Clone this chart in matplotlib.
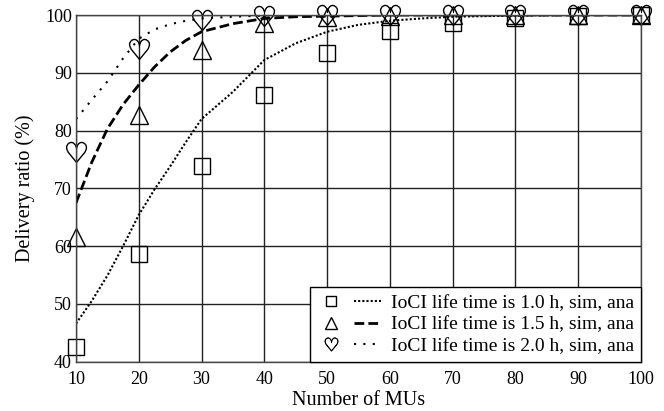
import numpy as np
import matplotlib
matplotlib.use("Agg")
import matplotlib.pyplot as plt
from matplotlib.legend_handler import HandlerTuple

plt.rcParams['font.family'] = ['Liberation Serif', 'DejaVu Serif']
plt.rcParams['mathtext.fontset'] = 'dejavusans'

# simulation points
mus = [10, 20, 30, 40, 50, 60, 70, 80, 90, 100]
sim_10 = [42.5, 58.6, 73.9, 86.1, 93.5, 97.3, 98.6, 99.4, 99.8, 100.0]
sim_15 = [61.5, 82.7, 93.9, 98.6, 99.6, 99.9, 100.0, 100.0, 100.0, 100.0]
sim_20 = [76.3, 94.2, 99.1, 99.9, 100.0, 100.0, 100.0, 100.0, 100.0, 100.0]

# analytical curves
ana_x = [10, 12.5, 15, 17.5, 20, 22.5, 25, 27.5, 30, 35, 40, 45, 50, 55, 60, 65, 70, 80, 90, 100]
ana_10 = [46.6, 50.5, 54.9, 60.0, 65.4, 69.8, 73.8, 78.0, 82.0, 86.7, 92.2, 95.1, 97.1, 98.3, 99.0, 99.4, 99.7, 99.9, 100.0, 100.0]
ana_15 = [67.5, 74.5, 80.3, 84.5, 87.9, 91.0, 93.6, 95.6, 97.1, 98.5, 99.4, 99.7, 99.8, 99.9, 100.0, 100.0, 100.0, 100.0, 100.0, 100.0]
ana_20 = [82.0, 85.3, 88.5, 92.5, 95.9, 97.5, 98.4, 99.0, 99.4, 99.7, 99.9, 100.0, 100.0, 100.0, 100.0, 100.0, 100.0, 100.0, 100.0, 100.0]

labels = ['IoCI life time is 1.0 h, sim, ana',
          'IoCI life time is 1.5 h, sim, ana',
          'IoCI life time is 2.0 h, sim, ana']

fig = plt.figure(figsize=(6.64, 4.11), dpi=100)
ax = fig.add_axes([0.1145, 0.12, 0.8505, 0.8435])

l1, = ax.plot(ana_x, ana_10, color='black', linestyle=(0, (1, 1)), lw=1.5)
l2, = ax.plot(ana_x, ana_15, color='black', linestyle=(0, (3.5, 1.5)), lw=2.0)
l3, = ax.plot(ana_x, ana_20, color='black', linestyle=(0, (1, 3.5)), lw=1.5)

m1, = ax.plot(mus, sim_10, 's', ms=12, mfc='none', mec='black', mew=1.0, ls='none', clip_on=False)
m2, = ax.plot(mus, sim_15, '^', ms=13, mfc='none', mec='black', mew=1.0, ls='none', clip_on=False)
m3, = ax.plot(mus, sim_20, marker=r'$\heartsuit$', ms=15, mfc='none', mec='black',
              mew=0.5, color='black', ls='none', clip_on=False)

ax.set_xlim(10, 100)
ax.set_ylim(40, 100)
ax.set_xticks(range(10, 101, 10))
ax.set_yticks(range(40, 101, 10))
ax.grid(True, color='#222222', lw=1.0)
ax.set_axisbelow(True)
ax.tick_params(length=0, labelsize=13)
ax.tick_params(axis='x', pad=7)
ax.tick_params(axis='y', pad=3)
for s in ax.spines.values():
    s.set_color('#444444')
    s.set_linewidth(1.0)

ax.set_xlabel('Number of MUs', fontsize=14.5, labelpad=2)
ax.set_ylabel('Delivery ratio (%)', fontsize=14.5, labelpad=7)

leg = ax.legend([(m1, l1), (m2, l2), (m3, l3)], labels,
                handler_map={tuple: HandlerTuple(ndivide=None, pad=0.5)},
                loc='lower right', fontsize=14, frameon=True, fancybox=False,
                markerscale=0.65, handlelength=3.3, handletextpad=0.5,
                borderaxespad=0.0, borderpad=0.35, labelspacing=0.2)
leg.get_frame().set_edgecolor('black')
leg.get_frame().set_linewidth(1.0)
leg.get_frame().set_alpha(1.0)
leg.set_zorder(5)

plt.savefig('out.png', dpi=100)
